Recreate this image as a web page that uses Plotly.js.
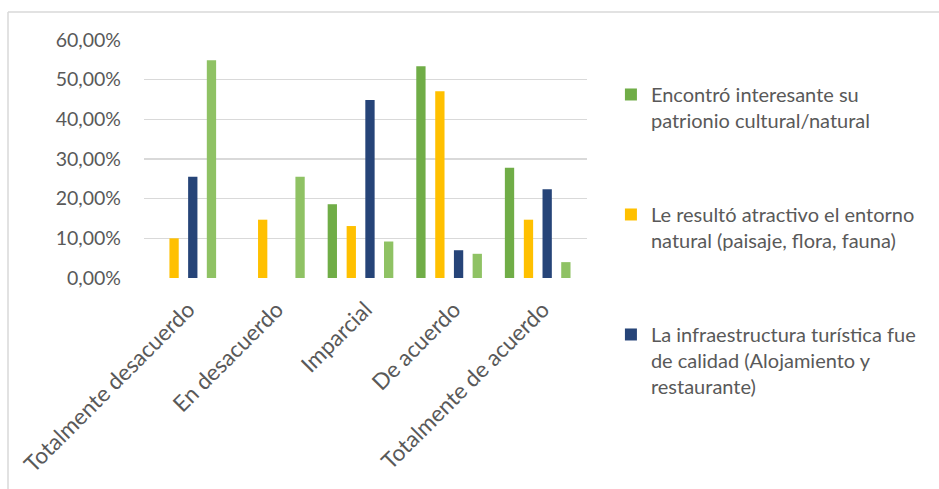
<!DOCTYPE html>
<html>
<head>
<meta charset="utf-8">
<script src="https://cdn.plot.ly/plotly-3.0.1.min.js"></script>
<style>
  html, body { margin: 0; padding: 0; background: #ffffff; }
  #chart { width: 939px; height: 489px; }
</style>
</head>
<body>
<div id="chart"></div>
<script>
const categories = ["Totalmente desacuerdo", "En desacuerdo", "Imparcial", "De acuerdo", "Totalmente de acuerdo"];
const seriesNames = [
  "Encontró interesante su<br>patrionio cultural/natural",
  "Le resultó atractivo el entorno<br>natural (paisaje, flora, fauna)",
  "La infraestructura turística fue<br>de calidad (Alojamiento y<br>restaurante)",
  "Serie 4"
];
const interesante = [0, 0, 18.6, 53.4, 27.8];
const atractivo = [10.0, 14.7, 13.1, 47.1, 14.7];
const infraestructura = [25.5, 0, 44.9, 7.0, 22.4];
const serie4 = [54.9, 25.5, 9.2, 6.1, 4.0];
const yTickVals = [0, 10, 20, 30, 40, 50, 60];
const yTickText = ["0,00%", "10,00%", "20,00%", "30,00%", "40,00%", "50,00%", "60,00%"];

const colors = ["#70AD47", "#FFC000", "#264478", "#8FC264"];
const offsets = [-0.427, -0.213, -0.002, 0.209];
const values = [interesante, atractivo, infraestructura, serie4];

const traces = values.map((v, i) => ({
  type: "bar",
  x: categories,
  y: v,
  name: seriesNames[i],
  legendgroup: "g" + i,
  showlegend: i < 3,
  marker: { color: colors[i] },
  width: 0.105,
  offset: offsets[i],
  hoverinfo: "skip"
}));

const layout = {
  width: 939,
  height: 489,
  margin: { l: 144, r: 352, t: 40, b: 211, autoexpand: false },
  paper_bgcolor: "#ffffff",
  plot_bgcolor: "#ffffff",
  barmode: "overlay",
  font: { family: "Lato, 'Open Sans', sans-serif", color: "#595959" },
  xaxis: {
    type: "category",
    tickangle: -45,
    tickfont: { size: 22.5, color: "#595959" },
    showgrid: false,
    zeroline: false,
    showline: false,
    ticks: "",
    ticklabelstandoff: 13,
    automargin: false
  },
  yaxis: {
    range: [0, 60],
    tickvals: yTickVals,
    ticktext: yTickText,
    tickfont: { size: 19.5, color: "#595959" },
    showgrid: true,
    gridcolor: "#d9d9d9",
    gridwidth: 1.5,
    zeroline: false,
    showline: false,
    ticks: "",
    ticklabelstandoff: 22,
    automargin: false
  },
  legend: {
    x: 1.054,
    xanchor: "left",
    y: 0.853,
    yanchor: "top",
    valign: "top",
    tracegroupgap: 65,
    maxheight: 480,
    font: { size: 20, color: "#595959" },
    bgcolor: "rgba(0,0,0,0)"
  },
  shapes: [
    { type: "line", xref: "paper", yref: "paper", x0: -0.307, x1: -0.307, y0: 1.1176, y1: -0.8866, line: { color: "#d9d9d9", width: 1.5 } },
    { type: "line", xref: "paper", yref: "paper", x0: -0.307, x1: 1.7946, y0: 1.1176, y1: 1.1176, line: { color: "#d9d9d9", width: 1.5 } }
  ]
};

Plotly.newPlot("chart", traces, layout, { displayModeBar: false, staticPlot: true });
</script>
</body>
</html>
